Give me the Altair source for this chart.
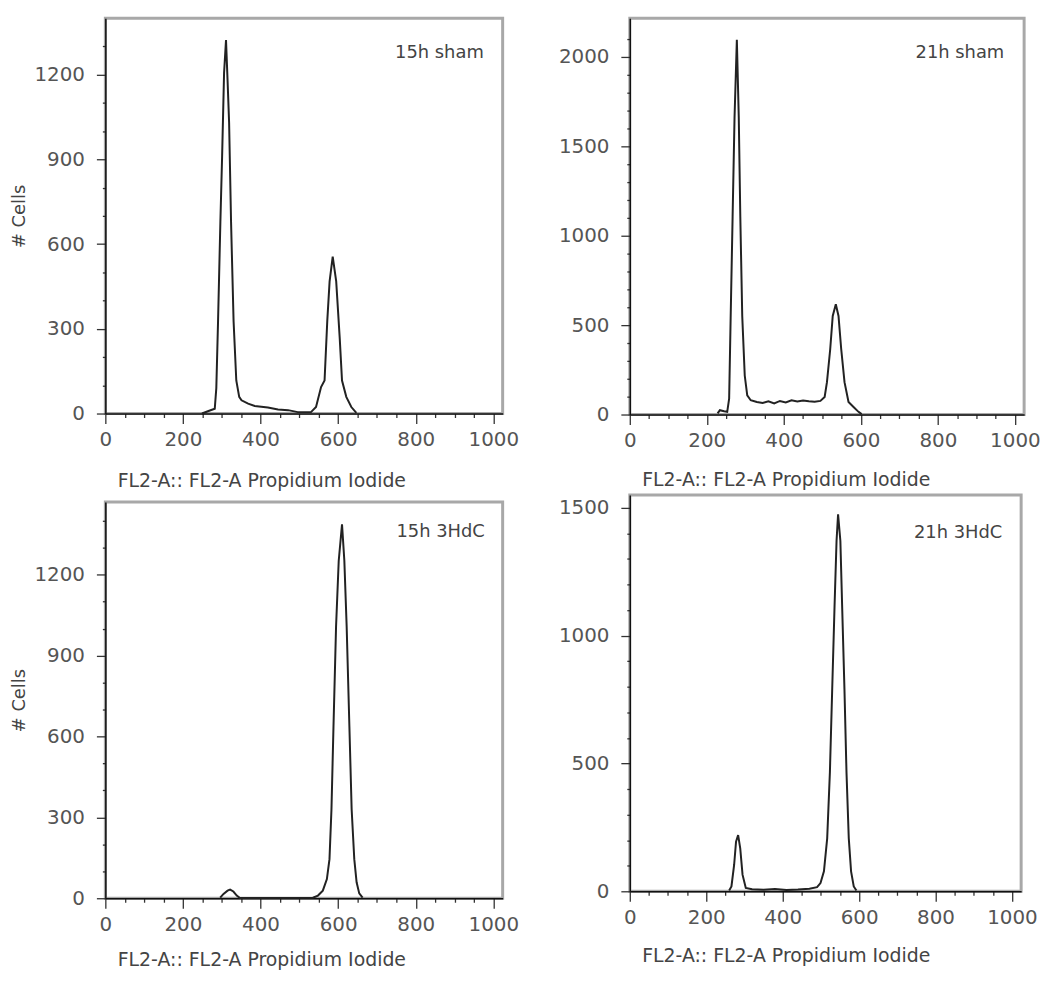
import altair as alt
import pandas as pd

# ---------------- data ----------------
# 15h sham
tl_x = [249, 266, 282, 286, 290.5, 296.5, 301, 306, 311, 315, 319, 324, 330.5, 337.5, 345, 351,
        368, 385, 419, 445, 471, 496, 530, 543, 556, 565, 572, 578, 586, 595, 604, 610, 621, 634, 647]
tl_y = [0, 9, 17, 90, 328, 679, 913, 1206, 1323, 1180, 1030, 679, 328, 117, 59, 47,
        35, 27, 21, 14, 12, 5, 5, 23, 94, 117, 328, 468, 556, 468, 269, 117, 59, 23, 2]

# 21h sham
tr_x = [228, 234, 245, 253, 258, 262, 267, 272, 278, 283, 287, 292, 298.5, 305, 314,
        330, 345, 360, 375, 390, 405, 420, 435, 450, 465, 480, 495,
        506, 512, 520.5, 527, 535, 542, 549, 557.6, 568, 581, 594, 602]
tr_y = [6, 24, 18, 15, 89, 551, 1105, 1660, 2094, 1660, 1105, 551, 218, 107, 80,
        70, 64, 74, 62, 76, 68, 80, 73, 78, 74, 71, 76,
        98, 181, 366, 551, 616, 551, 366, 181, 70, 42, 15, 2]

# 15h 3HdC
bl_x = [296, 304.6, 315, 321.6, 330, 338.7, 347,
        535, 548, 560.5, 571, 577.7, 582.8, 588, 594.6, 601.5, 610, 616, 622, 629,
        634.8, 641.6, 647.6, 654.4, 663]
bl_y = [2, 16, 28, 32, 25, 10, 1,
        2, 10, 28, 71, 145, 330, 637, 1006, 1252, 1387, 1252, 1006, 637,
        330, 145, 59, 18, 2]

# 21h 3HdC
br_x = [260, 266, 273, 278, 283.5, 289, 295, 303.5,
        320, 350, 380, 410, 440, 470, 490,
        499, 508, 516.5, 523.6, 529.6, 535.7, 541, 545, 551, 555.7, 561.7, 567, 573,
        579, 586, 593]
br_y = [3, 19, 103, 194, 220, 168, 65, 13,
        8, 6, 9, 5, 7, 10, 16,
        32, 78, 207, 466, 789, 1112, 1371, 1474, 1371, 1112, 789, 466, 207,
        78, 19, 3]

panel_labels = ["15h sham", "21h sham", "15h 3HdC", "21h 3HdC"]
x_title = "FL2-A:: FL2-A Propidium Iodide"
y_title = "# Cells"
x_tick_values = list(range(0, 1001, 50))

FONT = "DejaVu Sans"
TEXT = "#444444"


def panel(xs, ys, label, w, h, ymax, ymajor, ytop, show_ytitle, ytitle_x,
          tag_dx, tag_dy, xtitle_y, xtitle_size):
    data = pd.DataFrame({"channel": xs, "cells": ys})
    y_values = list(range(0, ytop + 1, 100))

    x_axis = alt.Axis(
        values=x_tick_values, format="d",
        labelExpr="datum.value % 200 === 0 ? datum.label : ''",
        tickSize={"condition": {"test": "datum.value % 200 === 0", "value": 10}, "value": 4},
        labelOverlap=False, labelFlush=False, labelPadding=6,
        labelFont=FONT, labelFontSize=20, labelColor="#555555",
        title=x_title, titleX=12, titleY=xtitle_y, titleAlign="left", titleBaseline="middle",
        titleFont=FONT, titleFontSize=xtitle_size, titleFontWeight="normal", titleColor=TEXT,
        domainColor="#111111", domainWidth=1.5, tickColor="#333333", tickWidth=1.3,
        grid=False,
    )

    ykw = dict(
        values=y_values, format="d",
        labelExpr=f"datum.value % {ymajor} === 0 ? datum.label : ''",
        tickSize={"condition": {"test": f"datum.value % {ymajor} === 0", "value": 9}, "value": 3},
        labelOverlap=False, labelFlush=False, labelPadding=12,
        labelFont=FONT, labelFontSize=20, labelColor="#555555",
        domainColor="#111111", domainWidth=1.5, tickColor="#333333", tickWidth=1.3,
        grid=False,
    )
    if show_ytitle:
        ykw.update(title=y_title, titleX=ytitle_x, titleY=h / 2, titleAngle=270,
                   titleAlign="center", titleBaseline="middle", titleFont=FONT,
                   titleFontSize=18, titleFontWeight="normal", titleColor=TEXT)
    else:
        ykw.update(title=None)
    y_axis = alt.Axis(**ykw)

    line = alt.Chart(data).mark_line(color="#222222", strokeWidth=2).encode(
        x=alt.X("channel:Q", scale=alt.Scale(domain=[0, 1024], nice=False), axis=x_axis),
        y=alt.Y("cells:Q", scale=alt.Scale(domain=[0, ymax], nice=False), axis=y_axis),
        order="channel:Q",
    )
    tag = alt.Chart(pd.DataFrame({"t": [label]})).mark_text(
        align="right", baseline="middle", font=FONT, fontSize=18, color=TEXT
    ).encode(x=alt.value(w - tag_dx), y=alt.value(tag_dy), text="t:N")
    return alt.layer(line, tag).properties(width=w, height=h)


tl = panel(tl_x, tl_y, panel_labels[0], 400, 398, 1400, 300, 1300, True, -86, 19, 35, 67, 19)
tr = panel(tr_x, tr_y, panel_labels[1], 397, 399, 2215, 500, 2100, False, 0, 20, 35, 65, 19)
bl = panel(bl_x, bl_y, panel_labels[2], 400, 399, 1470, 300, 1400, True, -86, 18, 30, 62, 19)
br = panel(br_x, br_y, panel_labels[3], 394, 399, 1550, 500, 1500, False, 0, 19, 38, 65, 19)

col1 = alt.vconcat(tl, bl, spacing=8)
col2 = alt.vconcat(tr, br, spacing=2)

chart = alt.hconcat(col1, col2, spacing=36).configure_view(
    stroke="#a8a8a8", strokeWidth=3
).properties(
    autosize=alt.AutoSizeParams(type="none"),
    padding={"left": 98, "top": 7, "right": 943, "bottom": 961},
    background="white",
)

chart.save("out.html", embed_options={"renderer": "svg", "actions": False})
